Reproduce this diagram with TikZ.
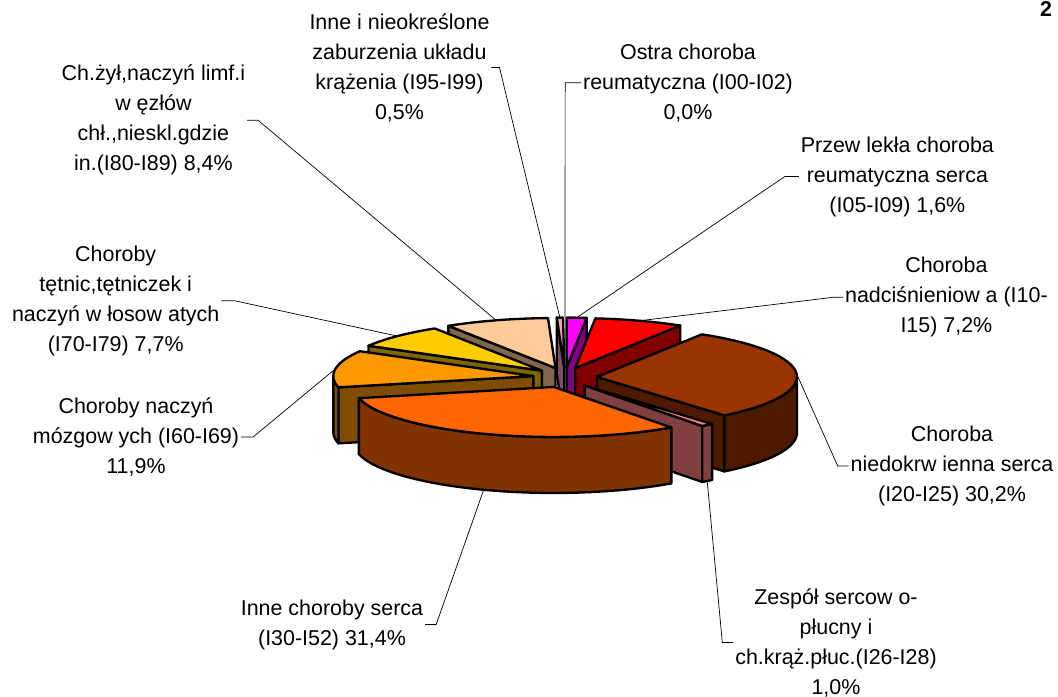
\documentclass[tikz,border=0pt]{standalone}
\usepackage{fontspec}
\setmainfont{Liberation Sans}
\usetikzlibrary{calc}

\definecolor{pinktop}{HTML}{FF99CC}
\definecolor{pinkside}{HTML}{804C66}
\definecolor{peachtop}{HTML}{FFCC99}
\definecolor{peachside}{HTML}{80664C}
\definecolor{goldtop}{HTML}{FFCC00}
\definecolor{goldside}{HTML}{806600}
\definecolor{mozgtop}{HTML}{FF9900}
\definecolor{mozgside}{HTML}{804C00}
\definecolor{orangetop}{HTML}{FF6600}
\definecolor{orangeside}{HTML}{803300}
\definecolor{zesptop}{HTML}{FF8080}
\definecolor{zespside}{HTML}{804040}
\definecolor{browntop}{HTML}{993300}
\definecolor{brownside}{HTML}{4D1A00}
\definecolor{redtop}{HTML}{FF0000}
\definecolor{redside}{HTML}{800000}
\definecolor{magtop}{HTML}{FF00FF}
\definecolor{magside}{HTML}{800080}

\begin{document}
\begin{tikzpicture}[x=0.03cm,y=0.03cm,samples=60,
    slice/.style={draw=black,line width=2pt,line join=round},
    lbl/.style={align=center,inner sep=1.5pt,font=\fontsize{18.3pt}{25.6pt}\selectfont},
    leader/.style={draw=black,line width=0.6pt}]

    \useasboundingbox (0,0) rectangle (1058,697);

    \coordinate (C) at (565,319.4);
    \coordinate (pinkT) at ($(C)+({32*cos(91.26)},{10*sin(91.26)})$);
    \coordinate (magT) at ($(C)+({32*cos(87.12)},{10*sin(87.12)})$);
    \coordinate (redT) at ($(C)+({32*cos(71.28)},{10*sin(71.28)})$);
    \coordinate (brownT) at ($(C)+({32*cos(3.96)},{10*sin(3.96)})$);
    \coordinate (zespT) at ($(C)+({32*cos(-52.2)},{10*sin(-52.2)})$);
    \coordinate (orangeT) at ($(C)+({32*cos(-110.52)},{10*sin(-110.52)})$);
    \coordinate (mozgT) at ($(C)+({32*cos(171.54)},{10*sin(171.54)})$);
    \coordinate (goldT) at ($(C)+({32*cos(136.26)},{10*sin(136.26)})$);
    \coordinate (peachT) at ($(C)+({32*cos(107.28)},{10*sin(107.28)})$);

    \coordinate (pinkP) at ($(pinkT)+({200*cos(91.26)},{50*sin(91.26)})$);
    \coordinate (ostraP) at ($(C)+(0,60)$);
    \coordinate (magP) at ($(magT)+({200*cos(87.12)},{50*sin(87.12)})$);
    \coordinate (redP) at ($(redT)+({200*cos(71.28)},{50*sin(71.28)})$);
    \coordinate (brownP) at ($(brownT)+({200*cos(3.96)},{50*sin(3.96)})$);
    \coordinate (zespP) at ($(zespT)+({200*cos(-52.2)},{50*sin(-52.2)-56})$);
    \coordinate (orangeP) at ($(orangeT)+({200*cos(-110.52)},{50*sin(-110.52)-56})$);
    \coordinate (mozgP) at ($(mozgT)+({200*cos(171.54)},{50*sin(171.54)})$);
    \coordinate (goldP) at ($(goldT)+({200*cos(136.26)},{50*sin(136.26)})$);
    \coordinate (peachP) at ($(peachT)+({200*cos(107.28)},{50*sin(107.28)})$);

    \node[lbl] (pinkL) at (399.5,629.5) {Inne i nieokreślone\\zaburzenia układu\\krążenia (I95-I99)\\0,5\%};
    \node[lbl] (ostraL) at (688,614.2) {Ostra choroba\\reumatyczna (I00-I02)\\0,0\%};
    \node[lbl] (przewL) at (897.4,520.5) {Przew lekła choroba\\reumatyczna serca\\(I05-I09) 1,6\%};
    \node[lbl] (nadcL) at (946.4,399.7) {Choroba\\nadciśnieniow a (I10-\\I15) 7,2\%};
    \node[lbl] (niedL) at (952,231) {Choroba\\niedokrw ienna serca\\(I20-I25) 30,2\%};
    \node[lbl] (zespL) at (836,54.5) {Zespół sercow o-\\płucny i\\ch.krąż.płuc.(I26-I28)\\1,0\%};
    \node[lbl] (inneL) at (332,72.5) {Inne choroby serca\\(I30-I52) 31,4\%};
    \node[lbl] (mozgL) at (136,260) {Choroby naczyń\\mózgow ych (I60-I69)\\11,9\%};
    \node[lbl] (tetnL) at (115.7,396.3) {Choroby\\tętnic,tętniczek i\\naczyń w łosow atych\\(I70-I79) 7,7\%};
    \node[lbl] (zylL) at (153.4,576.7) {Ch.żył,naczyń limf.i\\w ęzłów\\chł.,nieskl.gdzie\\in.(I80-I89) 8,4\%};
    \node[font=\bfseries\fontsize{18.3pt}{22pt}\selectfont,anchor=base] (nr) at (1046,680) {2};

    \draw[leader] (pinkL.east) -- ++(8,0) -- (pinkP);
    \draw[leader] (ostraL.west) -- ++(-16,0) -- (ostraP);
    \draw[leader] (przewL.west) -- ++(-14,0) -- (magP);
    \draw[leader] (nadcL.west) -- ++(-10,0) -- (redP);
    \draw[leader] (niedL.west) -- ++(-11,0) -- (brownP);
    \draw[leader] (zespL.west) -- ++(-11,0) -- (zespP);
    \draw[leader] (inneL.east) -- ++(11,0) -- (orangeP);
    \draw[leader] (mozgL.east) -- ++(12,0) -- (mozgP);
    \draw[leader] (tetnL.east) -- ++(13,0) -- (goldP);
    \draw[leader] (zylL.east) -- ++(11,0) -- (peachP);

    \begin{scope}[shift={(pinkT)}]
        \draw[slice,fill=pinkside] (0,0) -- (92.16:200 and 50) -- ++(0,-56) -- (0,-56) -- cycle;
        \draw[slice,fill=pinktop] (0,0) -- plot[domain=90.36:92.16,samples=5] ({200*cos(\x)},{50*sin(\x)}) -- cycle;
    \end{scope}

    \begin{scope}[shift={(magT)}]
        \draw[slice,fill=magside] (0,0) -- (84.24:200 and 50) -- ++(0,-56) -- (0,-56) -- cycle;
        \draw[slice,fill=magtop] (0,0) -- plot[domain=84.24:90,samples=8] ({200*cos(\x)},{50*sin(\x)}) -- cycle;
    \end{scope}

    \begin{scope}[shift={(peachT)}]
        \draw[slice,fill=peachside] (0,0) -- (122.4:200 and 50) -- ++(0,-56) -- (0,-56) -- cycle;
        \draw[slice,fill=peachtop] (0,0) -- plot[domain=92.16:122.4] ({200*cos(\x)},{50*sin(\x)}) -- cycle;
    \end{scope}

    \begin{scope}[shift={(redT)}]
        \draw[slice,fill=redside] (0,0) -- (58.32:200 and 50) -- ++(0,-56) -- (0,-56) -- cycle;
        \draw[slice,fill=redtop] (0,0) -- plot[domain=58.32:84.24] ({200*cos(\x)},{50*sin(\x)}) -- cycle;
    \end{scope}

    \begin{scope}[shift={(goldT)}]
        \draw[slice,fill=goldside] (0,0) -- (150.12:200 and 50) -- ++(0,-56) -- (0,-56) -- cycle;
        \draw[slice,fill=goldtop] (0,0) -- plot[domain=122.4:150.12] ({200*cos(\x)},{50*sin(\x)}) -- cycle;
    \end{scope}

    \begin{scope}[shift={(mozgT)}]
        \draw[slice,fill=mozgside] (0,0) -- (192.96:200 and 50) -- ++(0,-56) -- (0,-56) -- cycle;
        \draw[slice,fill=mozgside] plot[domain=180:192.96] ({200*cos(\x)},{50*sin(\x)}) -- plot[domain=192.96:180] ({200*cos(\x)},{50*sin(\x)-56}) -- cycle;
        \draw[slice,fill=mozgtop] (0,0) -- plot[domain=150.12:192.96] ({200*cos(\x)},{50*sin(\x)}) -- cycle;
    \end{scope}

    \begin{scope}[shift={(brownT)}]
        \draw[slice,fill=brownside] (0,0) -- (-50.4:200 and 50) -- ++(0,-56) -- (0,-56) -- cycle;
        \draw[slice,fill=brownside] plot[domain=-50.4:0] ({200*cos(\x)},{50*sin(\x)}) -- plot[domain=0:-50.4] ({200*cos(\x)},{50*sin(\x)-56}) -- cycle;
        \draw[slice,fill=browntop] (0,0) -- plot[domain=-50.4:58.32] ({200*cos(\x)},{50*sin(\x)}) -- cycle;
    \end{scope}

    \begin{scope}[shift={(zespT)}]
        \draw[slice,fill=zespside] (0,0) -- (-54:200 and 50) -- ++(0,-56) -- (0,-56) -- cycle;
        \draw[slice,fill=zespside] plot[domain=-54:-50.4,samples=5] ({200*cos(\x)},{50*sin(\x)}) -- plot[domain=-50.4:-54,samples=5] ({200*cos(\x)},{50*sin(\x)-56}) -- cycle;
        \draw[slice,fill=zesptop] (0,0) -- plot[domain=-54:-50.4,samples=5] ({200*cos(\x)},{50*sin(\x)}) -- cycle;
    \end{scope}

    \begin{scope}[shift={(orangeT)}]
        \draw[slice,fill=orangeside] plot[domain=-167.04:-54] ({200*cos(\x)},{50*sin(\x)}) -- plot[domain=-54:-167.04] ({200*cos(\x)},{50*sin(\x)-56}) -- cycle;
        \draw[slice,fill=orangetop] (0,0) -- plot[domain=-167.04:-54] ({200*cos(\x)},{50*sin(\x)}) -- cycle;
    \end{scope}

\end{tikzpicture}
\end{document}
